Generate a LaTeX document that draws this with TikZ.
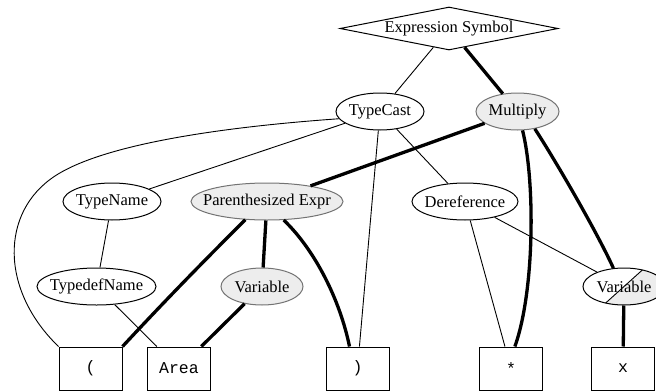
\documentclass[tikz,border=0pt]{standalone}
\usepackage{fontspec}
\setmainfont{Liberation Serif}
\setmonofont{Liberation Mono}
\usetikzlibrary{shapes.geometric,calc}

\newcommand{\clab}[1]{\makebox[0pt]{#1}}

\begin{document}
\begin{tikzpicture}[
    x=1pt, y=-1pt,
    every node/.style={font=\fontsize{16.5}{19}\selectfont},
    sym/.style={diamond, draw, line width=1pt, aspect=5, inner sep=0pt,
                minimum width=218pt, minimum height=43pt},
    rule/.style={ellipse, draw, line width=1pt, inner sep=0pt, minimum height=37pt},
    hot/.style={rule, draw=black!55, fill=black!7},
    tok/.style={rectangle, draw, line width=1pt, minimum width=63pt, minimum height=43pt,
                font=\fontsize{16.5}{19}\selectfont\ttfamily},
    syn/.style={line width=0.9pt},
    sem/.style={line width=3.3pt}
  ]
    \useasboundingbox (0,0) rectangle (656,391);

    \node[sym]                          (sym)   at (449,28.5)  {Expression Symbol};

    \node[rule, minimum width=88pt]     (cast)  at (380,111.5) {\clab{TypeCast}};
    \node[hot,  minimum width=83pt]     (mul)   at (517.5,111.5) {\clab{Multiply}};

    \node[rule, minimum width=98pt]     (tname) at (112,201.5) {\clab{TypeName}};
    \node[hot,  minimum width=152pt]    (paren) at (267,201.5) {\clab{Parenthesized Expr}};
    \node[rule, minimum width=106pt]    (deref) at (465,201.5) {\clab{Dereference}};

    \node[rule, minimum width=119pt]    (tdef)  at (96.5,286.5) {\clab{TypedefName}};
    \node[hot,  minimum width=82pt]     (var)   at (262,286.5) {\clab{Variable}};
    \node[rule, minimum width=82pt,
          path picture={
            \fill[black!7] ($(path picture bounding box.center)+(-45,40.5)$)
                           -- ++(90,-81) -- ++(0,81) -- cycle;
            \draw[syn] ($(path picture bounding box.center)+(-45,40.5)$) -- ++(90,-81);
          }]                            (xvar)  at (624,286.5) {\clab{Variable}};

    %--- tokens ---
    \node[tok] (lp)   at (90.5,368.5) {(};
    \node[tok] (area) at (179,368.5)  {Area};
    \node[tok] (rp)   at (357.5,368.5) {)};
    \node[tok] (ast)  at (511,368.5)  {*};
    \node[tok] (x)    at (623,368.5)  {x};

    %--- syntax edges ---
    \draw[syn] (sym) -- (cast);
    \draw[syn] (cast.190) .. controls (250,125) and (110,140) .. (55,176)
                          .. controls (0,212) and (0,290) .. (lp.north west);
    \draw[syn] (cast) -- (tname);
    \draw[syn] (cast) -- (rp);
    \draw[syn] (cast) -- (deref);
    \draw[syn] (tname) -- (tdef);
    \draw[syn] (tdef) -- (area);
    \draw[syn] (deref) -- (ast);
    \draw[syn] (deref) -- (xvar);

    %--- semantic edges ---
    \draw[sem] (sym) -- (mul);
    \draw[sem] (mul) -- (paren);
    \draw[sem] (mul.-75) .. controls (535,180) and (535,290) .. (ast.80);
    \draw[sem] (mul.-45) .. controls (552,155) and (595,228) .. (xvar.120);
    \draw[sem] (paren.220) .. controls (215,250) and (175,290) .. (lp.north east);
    \draw[sem] (paren) -- (var);
    \draw[sem] (paren.-48) .. controls (315,250) and (340,300) .. (rp.110);
    \draw[sem] (var) -- (area);
    \draw[sem] (xvar) -- (x);
\end{tikzpicture}
\end{document}
